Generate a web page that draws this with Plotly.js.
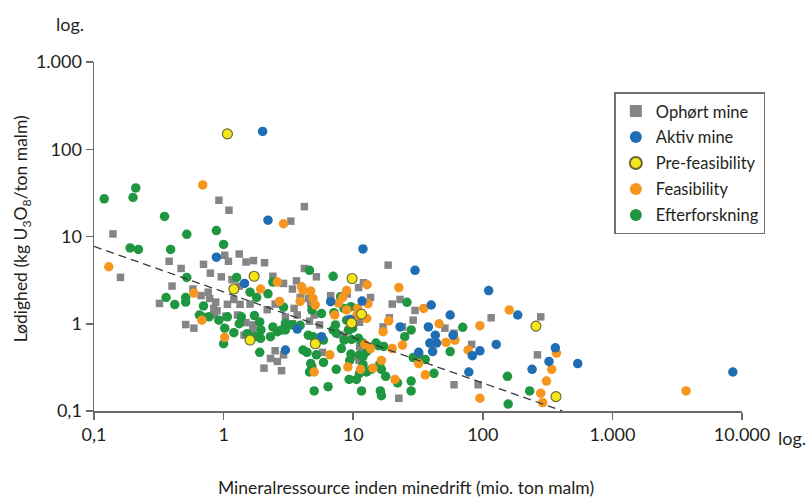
<!DOCTYPE html>
<html>
<head>
<meta charset="utf-8">
<script src="https://cdn.plot.ly/plotly-3.0.1.min.js"></script>
<style>
  html, body { margin: 0; padding: 0; background: #ffffff; }
  #chart { width: 809px; height: 497px; }
</style>
</head>
<body>
<div id="chart"></div>
<script>
// Uranforekomster: mineralressource (mio. ton malm) mod lødighed (kg U3O8/ton malm)

const seriesNames = ["Ophørt mine", "Aktiv mine", "Pre-feasibility", "Feasibility", "Efterforskning"];

// Ophørt mine
const ophortX = [0.14, 0.16, 0.92, 1.1, 4.2, 3.3, 1.02, 1.32, 1.09, 1.49, 1.7, 2.07, 0.38, 0.47, 0.70, 0.79, 0.96,
  0.40, 0.58, 0.67, 0.76, 0.87, 0.32, 1.2, 2.4, 2.9, 4.2, 3.65, 3.9, 4.5, 1.6, 0.84, 1.16, 1.32, 3.4, 0.78, 0.89,
  1.07, 1.34, 2.17, 2.5, 3.5, 3.7, 4.7, 4.8, 0.85, 1.04, 1.28, 1.49, 1.69, 0.51, 0.59, 3.0, 3.4, 4.6, 5.5, 1.44,
  1.68, 1.67, 2.5, 2.3, 2.6, 2.9, 2.05, 2.8, 5.8, 5.2, 12, 11, 6.7, 9.0, 13.6, 18.6, 20, 23, 30, 19, 17, 24, 29,
  116, 280, 264, 92, 60, 22.5, 51, 82, 60, 11.2, 10.6, 11.1, 7.9, 9.2, 8.5, 11.2, 5.0, 10.8];
const ophortY = [10.7, 3.4, 26, 20, 22, 15, 6.1, 6.3, 5.2, 5.1, 5.3, 5.0, 5.2, 4.3, 4.8, 3.8, 3.45,
  2.7, 2.5, 2.1, 2.3, 1.77, 1.71, 1.9, 3.5, 2.9, 4.3, 3.1, 2.0, 1.95, 1.68, 1.5, 3.2, 2.7, 2.5, 1.95, 1.41,
  1.67, 1.67, 1.45, 1.68, 1.5, 1.26, 1.71, 1.44, 1.26, 1.22, 1.26, 1.03, 0.97, 0.98, 0.89, 1.19, 1.0, 1.07, 0.97, 0.74,
  0.84, 0.73, 0.49, 0.40, 0.37, 0.44, 0.31, 0.29, 0.47, 3.45, 2.95, 2.6, 2.1, 2.2, 2.0, 4.7, 1.68, 1.9, 1.42, 1.17, 0.92, 0.92, 1.1,
  1.17, 1.2, 0.44, 0.20, 0.20, 0.14, 0.89, 0.58, 0.78, 0.55, 0.42, 0.38, 0.75, 0.83, 0.70, 1.04, 1.26, 1.32];

// Aktiv mine
const aktivX = [2.0, 2.2, 0.88, 1.45, 3.7, 5.7, 3.0, 11.9, 30, 111, 6.7, 11.7, 9.5, 23, 40, 56, 38, 39, 44, 41,
  43, 59, 95, 83, 78, 127, 32, 186, 363, 324, 240, 540, 8500];
const aktivY = [160, 15.4, 5.8, 2.9, 0.87, 0.71, 0.50, 7.2, 4.1, 2.4, 1.79, 1.82, 1.12, 0.92, 1.64, 1.26, 0.92, 0.60, 0.60, 0.48,
  0.74, 0.74, 0.49, 0.43, 0.28, 0.58, 0.47, 1.26, 0.53, 0.37, 0.30, 0.35, 0.28];

// Pre-feasibility
const preX = [1.07, 1.72, 1.2, 1.6, 5.1, 9.8, 11.6, 9.7, 257, 367];
const preY = [150, 3.5, 2.5, 0.65, 0.59, 3.3, 1.29, 1.02, 0.94, 0.146];

// Feasibility
const feasX = [0.69, 2.9, 0.13, 0.59, 1.93, 2.7, 4.0, 4.1, 4.7, 2.6, 5.1, 0.68, 1.02, 6.6, 5.0, 12.8, 8.9, 8.3, 7.7,
  13, 22.5, 35, 95, 4.9, 3.9, 7.2, 10.8, 8.9, 10.7, 12.7, 18.8, 46, 12.3, 13.6, 9.1, 11.4, 14.2, 16.5, 21, 36,
  52, 61, 77, 95, 32, 24, 17, 20, 160, 370, 340, 310, 280, 290, 3700];
const feasY = [39, 14, 4.5, 2.25, 2.5, 1.8, 2.65, 2.4, 2.37, 3.0, 1.64, 1.1, 0.70, 0.44, 0.28, 2.8, 2.4, 2.0, 1.72,
  1.7, 2.6, 1.5, 0.95, 1.95, 1.8, 1.26, 1.5, 1.44, 1.26, 1.15, 1.08, 1.0, 0.58, 0.52, 0.32, 0.30, 0.31, 0.38, 0.23, 0.26,
  0.61, 0.65, 0.50, 0.14, 0.35, 0.57, 0.81, 0.52, 1.44, 0.46, 0.30, 0.22, 0.16, 0.125, 0.17];

// Efterforskning
const efterX = [0.12, 0.21, 0.20, 0.35, 0.52, 0.88, 1.0, 0.19, 0.22, 0.39, 0.52, 1.26, 2.4, 0.36, 0.42, 0.51, 0.51,
  0.70, 1.6, 1.8, 2.2, 2.9, 4.6, 0.65, 0.70, 0.77, 0.92, 1.07, 1.37, 1.73, 1.9, 1.02, 1.2, 1.32, 1.52, 1.74, 1.94,
  1.93, 2.3, 2.4, 2.6, 2.8, 3.0, 3.4, 3.9, 4.5, 4.9, 1.0, 1.9, 4.4, 5.2, 5.9, 4.8, 4.6, 5.0, 6.4, 4.1, 7.0, 8.0,
  26, 4.8, 5.7, 7.1, 8.9, 9.6, 8.5, 3.0, 5.9, 7.0, 7.4, 8.5, 9.7, 11, 9.9, 9.2, 11.9, 12.7, 15, 15.7, 17.2, 8.1,
  9.6, 11.2, 11.9, 9.4, 11.9, 11.2, 12.7, 16, 16.5, 17.8, 22, 28, 28, 16.2, 16.5, 4.7, 7.4, 9.3, 10.6, 13.8, 11.6,
  32, 29, 36, 42, 25, 28, 70, 56, 155, 230, 157, 7.3];
const efterY = [27, 36, 28, 17, 10.6, 11.7, 8.1, 7.4, 7.1, 7.1, 3.4, 3.4, 3.0, 2.0, 1.66, 2.0, 1.77,
  1.6, 2.3, 2.0, 2.2, 1.55, 4.1, 1.26, 1.19, 1.2, 1.1, 1.2, 1.2, 1.24, 1.05, 0.89, 0.79, 1.0, 0.77, 0.71, 0.85,
  0.68, 0.71, 0.92, 0.81, 0.85, 0.85, 0.97, 0.96, 0.74, 0.71, 0.59, 0.47, 0.47, 0.44, 0.36, 0.32, 0.28, 0.17, 0.19, 0.50, 3.5, 2.04,
  1.76, 1.44, 1.31, 1.34, 1.1, 1.57, 1.5, 1.01, 0.65, 0.85, 0.78, 0.65, 0.66, 0.68, 0.89, 0.85, 0.60, 0.48, 0.60, 0.56, 0.55, 0.52,
  0.45, 0.44, 0.42, 0.38, 0.34, 0.27, 0.28, 0.34, 0.30, 0.25, 0.21, 0.22, 0.17, 0.17, 0.15, 0.35, 0.30, 0.23, 0.23, 0.30, 0.17,
  0.44, 0.41, 0.39, 0.27, 0.71, 0.85, 0.91, 0.48, 0.25, 0.17, 0.12, 0.97];

// Tendenslinje (stiplet)
const trendX = [0.1, 413];
const trendY = [7.7, 0.1];

// Akser
const xTickVals = [0.1, 1, 10, 100, 1000, 10000];
const xTickText = ["0,1", "1", "10", "100", "1.000", "10.000"];
const yTickVals = [0.1, 1, 10, 100, 1000];
const yTickText = ["0,1", "1", "10", "100", "1.000"];

const FONT = 'Lato, "Open Sans", "DejaVu Sans", sans-serif';
const TEXT = '#231f20';
const AXIS = '#6a6a6a';

const colors = {
  ophort: '#858585',
  aktiv: '#1f6db3',
  pre: '#f2e51c',
  feas: '#f5961e',
  efter: '#1f9640'
};

function circles(name, xs, ys, color, rank) {
  return {
    type: 'scatter', mode: 'markers', name: name, x: xs, y: ys,
    legendgroup: name, legendrank: rank,
    marker: { symbol: 'circle', size: 9.5, color: color, line: { width: 0 } }
  };
}

const traces = [
  {
    type: 'scatter', mode: 'markers', name: seriesNames[0], x: ophortX, y: ophortY,
    legendgroup: seriesNames[0], legendrank: 1,
    marker: { symbol: 'square', size: 7.5, color: colors.ophort, line: { width: 0 } }
  },
  circles(seriesNames[4], efterX, efterY, colors.efter, 5),
  circles(seriesNames[3], feasX, feasY, colors.feas, 4),
  circles(seriesNames[1], aktivX, aktivY, colors.aktiv, 2),
  {
    type: 'scatter', mode: 'markers', name: seriesNames[2], x: preX, y: preY,
    legendgroup: seriesNames[2], legendrank: 3,
    marker: { symbol: 'circle', size: 10, color: colors.pre, line: { width: 1.1, color: '#6b6330' } }
  },
  {
    type: 'scatter', mode: 'lines', x: trendX, y: trendY, showlegend: false, hoverinfo: 'skip',
    line: { color: '#3a3a3a', width: 1.3, dash: '8px,5px' }
  }
];

const layout = {
  width: 809, height: 497,
  margin: { l: 94, r: 66.5, t: 62, b: 86 },
  paper_bgcolor: '#ffffff', plot_bgcolor: '#ffffff',
  font: { family: FONT, color: TEXT, size: 17 },
  showlegend: true,
  legend: {
    x: 0.803, y: 0.913, xanchor: 'left', yanchor: 'top',
    bgcolor: '#ffffff', bordercolor: '#707070', borderwidth: 1.5,
    font: { family: FONT, size: 16.5, color: TEXT },
    tracegroupgap: 1.5, itemsizing: 'constant'
  },
  xaxis: {
    type: 'log', range: [-1, 4], showgrid: false, zeroline: false,
    showline: true, linecolor: AXIS, linewidth: 1.5, mirror: false,
    ticks: 'outside', ticklen: 7, tickwidth: 1.5, tickcolor: AXIS,
    tickvals: xTickVals, ticktext: xTickText,
    tickfont: { family: FONT, size: 18, color: TEXT }
  },
  yaxis: {
    type: 'log', range: [-1, 3], showgrid: false, zeroline: false,
    showline: true, linecolor: AXIS, linewidth: 1.5, mirror: false,
    ticks: 'outside', ticklen: 7, tickwidth: 1.5, tickcolor: AXIS,
    tickvals: yTickVals, ticktext: yTickText,
    tickfont: { family: FONT, size: 18, color: TEXT }
  },
  annotations: [
    { text: 'log.', xref: 'paper', yref: 'paper', x: -0.037, y: 1.108, xanchor: 'center', yanchor: 'middle',
      showarrow: false, font: { family: FONT, size: 18, color: TEXT } },
    { text: 'log.', xref: 'paper', yref: 'paper', x: 1.053, y: -0.076, xanchor: 'left', yanchor: 'middle',
      showarrow: false, font: { family: FONT, size: 18, color: TEXT } },
    { text: 'Mineralressource inden minedrift (mio. ton malm)', xref: 'paper', yref: 'paper',
      x: 0.481, y: -0.2205, xanchor: 'center', yanchor: 'middle', showarrow: false,
      font: { family: FONT, size: 17.5, color: TEXT } },
    { text: 'Lødighed (kg U<sub>3</sub>O<sub>8</sub>/ton malm)', xref: 'paper', yref: 'paper',
      x: -0.111, y: 0.521, xanchor: 'center', yanchor: 'middle', textangle: -90, showarrow: false,
      font: { family: FONT, size: 17.5, color: TEXT } }
  ]
};

Plotly.newPlot('chart', traces, layout, { staticPlot: true, displayModeBar: false });
</script>
</body>
</html>
